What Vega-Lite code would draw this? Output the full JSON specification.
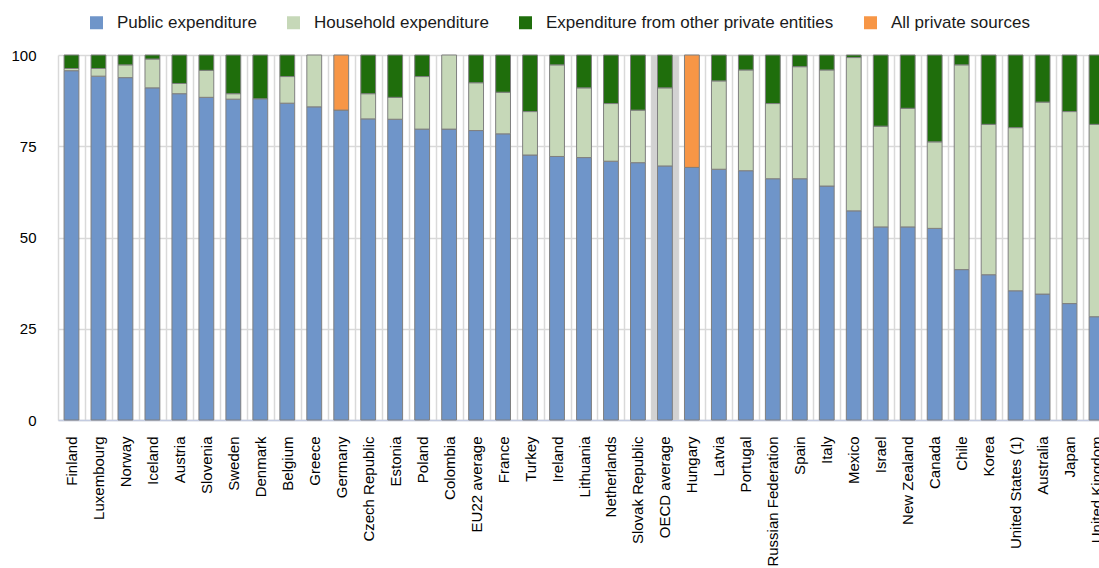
{
  "$schema": "https://vega.github.io/schema/vega-lite/v6.json",
  "width": 1041,
  "height": 365,
  "autosize": {"type": "none"},
  "padding": {"left": 58, "top": 55, "right": 0, "bottom": 148},
  "background": "white",
  "config": {
    "font": "Liberation Sans",
    "view": {"stroke": null},
    "axis": {"labelFont": "Liberation Sans", "labelColor": "#000000", "labelFontSize": 15}
  },
  "layer": [
    {
      "data": {"values": [{"country": "OECD average", "share": 100}]},
      "mark": {"type": "bar", "color": "#d2d2d2", "width": {"band": 1}},
      "encoding": {
        "x": {
          "field": "country",
          "type": "nominal",
          "sort": null,
          "axis": {
            "title": null,
            "labelAngle": -90,
            "labelPadding": 16,
            "ticks": false,
            "tickBand": "extent",
            "grid": true,
            "gridColor": "#d9d9d9",
            "gridWidth": 1.5,
            "domainColor": "#c3cbe0",
            "domainWidth": 1.5
          }
        },
        "y": {
          "field": "share",
          "type": "quantitative",
          "axis": {
            "title": null,
            "values": [0, 25, 50, 75, 100],
            "ticks": false,
            "domain": false,
            "labelPadding": 22,
            "gridColor": "#d9d9d9",
            "gridWidth": 1.5
          }
        }
      }
    },
    {
      "data": {
        "values": [
          {"country": "Finland", "Public expenditure": 95.7, "Household expenditure": 0.6, "Expenditure from other private entities": 3.7},
          {"country": "Luxembourg", "Public expenditure": 94.2, "Household expenditure": 2.1, "Expenditure from other private entities": 3.7},
          {"country": "Norway", "Public expenditure": 93.8, "Household expenditure": 3.5, "Expenditure from other private entities": 2.7},
          {"country": "Iceland", "Public expenditure": 91.0, "Household expenditure": 7.9, "Expenditure from other private entities": 1.1},
          {"country": "Austria", "Public expenditure": 89.4, "Household expenditure": 2.8, "Expenditure from other private entities": 7.8},
          {"country": "Slovenia", "Public expenditure": 88.4, "Household expenditure": 7.4, "Expenditure from other private entities": 4.2},
          {"country": "Sweden", "Public expenditure": 87.9, "Household expenditure": 1.5, "Expenditure from other private entities": 10.6},
          {"country": "Denmark", "Public expenditure": 88.0, "Expenditure from other private entities": 12.0},
          {"country": "Belgium", "Public expenditure": 86.8, "Household expenditure": 7.3, "Expenditure from other private entities": 5.9},
          {"country": "Greece", "Public expenditure": 85.8, "Household expenditure": 14.2},
          {"country": "Germany", "Public expenditure": 84.9, "All private sources": 15.1},
          {"country": "Czech Republic", "Public expenditure": 82.5, "Household expenditure": 6.9, "Expenditure from other private entities": 10.6},
          {"country": "Estonia", "Public expenditure": 82.4, "Household expenditure": 6.0, "Expenditure from other private entities": 11.6},
          {"country": "Poland", "Public expenditure": 79.7, "Household expenditure": 14.4, "Expenditure from other private entities": 5.9},
          {"country": "Colombia", "Public expenditure": 79.7, "Household expenditure": 20.3},
          {"country": "EU22 average", "Public expenditure": 79.3, "Household expenditure": 13.1, "Expenditure from other private entities": 7.6},
          {"country": "France", "Public expenditure": 78.4, "Household expenditure": 11.4, "Expenditure from other private entities": 10.2},
          {"country": "Turkey", "Public expenditure": 72.6, "Household expenditure": 11.9, "Expenditure from other private entities": 15.5},
          {"country": "Ireland", "Public expenditure": 72.2, "Household expenditure": 25.1, "Expenditure from other private entities": 2.7},
          {"country": "Lithuania", "Public expenditure": 71.9, "Household expenditure": 19.1, "Expenditure from other private entities": 9.0},
          {"country": "Netherlands", "Public expenditure": 70.9, "Household expenditure": 15.8, "Expenditure from other private entities": 13.3},
          {"country": "Slovak Republic", "Public expenditure": 70.5, "Household expenditure": 14.4, "Expenditure from other private entities": 15.1},
          {"country": "OECD average", "Public expenditure": 69.6, "Household expenditure": 21.4, "Expenditure from other private entities": 9.0},
          {"country": "Hungary", "Public expenditure": 69.2, "All private sources": 30.8},
          {"country": "Latvia", "Public expenditure": 68.7, "Household expenditure": 24.2, "Expenditure from other private entities": 7.1},
          {"country": "Portugal", "Public expenditure": 68.3, "Household expenditure": 27.6, "Expenditure from other private entities": 4.1},
          {"country": "Russian Federation", "Public expenditure": 66.1, "Household expenditure": 20.6, "Expenditure from other private entities": 13.3},
          {"country": "Spain", "Public expenditure": 66.1, "Household expenditure": 30.7, "Expenditure from other private entities": 3.2},
          {"country": "Italy", "Public expenditure": 64.1, "Household expenditure": 31.8, "Expenditure from other private entities": 4.1},
          {"country": "Mexico", "Public expenditure": 57.3, "Household expenditure": 42.0, "Expenditure from other private entities": 0.7},
          {"country": "Israel", "Public expenditure": 52.9, "Household expenditure": 27.6, "Expenditure from other private entities": 19.5},
          {"country": "New Zealand", "Public expenditure": 52.9, "Household expenditure": 32.5, "Expenditure from other private entities": 14.6},
          {"country": "Canada", "Public expenditure": 52.5, "Household expenditure": 23.7, "Expenditure from other private entities": 23.8},
          {"country": "Chile", "Public expenditure": 41.2, "Household expenditure": 56.1, "Expenditure from other private entities": 2.7},
          {"country": "Korea", "Public expenditure": 39.8, "Household expenditure": 41.2, "Expenditure from other private entities": 19.0},
          {"country": "United States (1)", "Public expenditure": 35.4, "Household expenditure": 44.7, "Expenditure from other private entities": 19.9},
          {"country": "Australia", "Public expenditure": 34.5, "Household expenditure": 52.6, "Expenditure from other private entities": 12.9},
          {"country": "Japan", "Public expenditure": 31.9, "Household expenditure": 52.6, "Expenditure from other private entities": 15.5},
          {"country": "United Kingdom", "Public expenditure": 28.3, "Household expenditure": 52.7, "Expenditure from other private entities": 19.0}
        ]
      },
      "transform": [
        {"fold": ["Public expenditure", "Household expenditure", "Expenditure from other private entities", "All private sources"], "as": ["source", "share"]},
        {"filter": "isValid(datum.share)"}
      ],
      "mark": {"type": "bar", "width": {"band": 0.55}, "stroke": "#7f7f7f", "strokeWidth": 1},
      "encoding": {
        "x": {
          "field": "country",
          "type": "nominal",
          "sort": null,
          "scale": {
            "domain": ["Finland", "Luxembourg", "Norway", "Iceland", "Austria", "Slovenia", "Sweden", "Denmark", "Belgium", "Greece", "Germany", "Czech Republic", "Estonia", "Poland", "Colombia", "EU22 average", "France", "Turkey", "Ireland", "Lithuania", "Netherlands", "Slovak Republic", "OECD average", "Hungary", "Latvia", "Portugal", "Russian Federation", "Spain", "Italy", "Mexico", "Israel", "New Zealand", "Canada", "Chile", "Korea", "United States (1)", "Australia", "Japan", "United Kingdom"],
            "range": [0, 1052],
            "paddingInner": 0,
            "paddingOuter": 0
          },
          "title": null
        },
        "y": {
          "field": "share",
          "type": "quantitative",
          "stack": "zero",
          "scale": {"domain": [0, 100], "nice": false},
          "title": null
        },
        "color": {
          "field": "source",
          "type": "nominal",
          "scale": {
            "domain": ["Public expenditure", "Household expenditure", "Expenditure from other private entities", "All private sources"],
            "range": ["#6f95c9", "#c6d8b8", "#1f6e0c", "#f79646"]
          },
          "legend": {
            "title": null,
            "orient": "none",
            "direction": "horizontal",
            "legendX": 30,
            "legendY": -41,
            "padding": 0,
            "symbolType": "square",
            "symbolSize": 169,
            "symbolStrokeWidth": 0,
            "labelFontSize": 17,
            "labelLimit": 0,
            "labelColor": "#1a1a1a",
            "labelOffset": 12,
            "columnPadding": 28
          }
        },
        "order": {"field": "source", "sort": "descending"}
      }
    }
  ]
}
